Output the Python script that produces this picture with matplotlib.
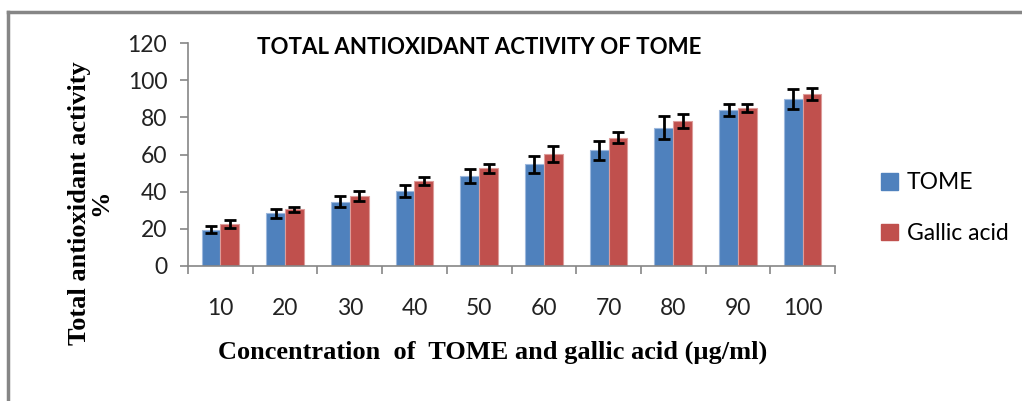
import numpy as np
import matplotlib.pyplot as plt
from matplotlib.lines import Line2D

# Data
conc = ["10", "20", "30", "40", "50", "60", "70", "80", "90", "100"]
tome = [19.5, 28.4, 34.6, 40.2, 48.4, 54.7, 62.2, 74.4, 83.8, 89.7]
tome_err = [2.0, 2.5, 3.0, 3.3, 4.0, 4.7, 5.0, 6.1, 3.3, 5.4]
gallic = [22.4, 30.5, 37.5, 45.6, 52.6, 60.1, 69.1, 78.0, 85.0, 92.6]
gallic_err = [2.2, 1.3, 2.6, 2.2, 2.5, 4.3, 3.1, 3.7, 2.2, 3.3]

blue = "#4F81BD"
red = "#C0504D"
grey = "#868686"

fig = plt.figure(figsize=(10.22, 4.01), dpi=100)
ax = fig.add_axes([188 / 1022, 1 - 266 / 401, (835 - 188) / 1022, (266 - 43) / 401])

x = np.arange(len(conc))
w = 0.29
err_kw = dict(ecolor="black", elinewidth=2, capsize=4.5, capthick=2)
ax.bar(x - w / 2, tome, w, color=blue, edgecolor="#9DB8DD", linewidth=0.8,
       yerr=tome_err, error_kw=err_kw, label="TOME")
ax.bar(x + w / 2, gallic, w, color=red, edgecolor="#DD9C9A", linewidth=0.8,
       yerr=gallic_err, error_kw=err_kw, label="Gallic acid")

ax.set_xlim(-0.5, len(conc) - 0.5)
ax.set_ylim(0, 120)
ax.set_yticks(range(0, 121, 20))
ax.set_xticks(x)
ax.set_xticklabels(conc)
ax.set_xticks(np.arange(-0.5, len(conc), 1), minor=True)
ax.tick_params(axis="x", which="major", length=0, pad=23)
ax.tick_params(axis="x", which="minor", length=6, color=grey, width=1.2)
ax.tick_params(axis="y", length=6, color=grey, width=1.2, pad=9)
for lab in ax.get_xticklabels() + ax.get_yticklabels():
    lab.set_fontfamily("Lato")
    lab.set_fontsize(16.5)
    lab.set_color("#222222")

for s in ["top", "right"]:
    ax.spines[s].set_visible(False)
for s in ["left", "bottom"]:
    ax.spines[s].set_color(grey)
    ax.spines[s].set_linewidth(1.2)

ax.set_title("TOTAL ANTIOXIDANT ACTIVITY OF TOME", fontfamily="Lato",
             fontweight="bold", fontsize=16, x=0.45, y=0.915)

fig.text(493 / 1022, 1 - 352 / 401, "Concentration  of  TOME and gallic acid (\u00b5g/ml)",
         ha="center", va="center", fontfamily="Liberation Serif",
         fontweight="bold", fontsize=19)
fig.text(90 / 1022, 1 - 203 / 401, "Total antioxidant activity\n%",
         ha="center", va="center", rotation=90, fontfamily="Liberation Serif",
         fontweight="bold", fontsize=19, linespacing=0.9)

handles = [plt.Rectangle((0, 0), 1, 1, color=blue), plt.Rectangle((0, 0), 1, 1, color=red)]
fig.legend(handles, ["TOME", "Gallic acid"], loc="center left",
           bbox_to_anchor=(860 / 1022, 1 - 208 / 401), frameon=False,
           prop={"family": "Lato", "size": 16.5}, handlelength=0.75, handleheight=0.75,
           handletextpad=0.4, labelspacing=1.3)

# outer chart frame (cut off at right and bottom)
fig.add_artist(Line2D([8 / 1022, 8 / 1022], [0, 1 - 12 / 401], color=grey, lw=2.5,
                      transform=fig.transFigure))
fig.add_artist(Line2D([8 / 1022, 1], [1 - 12 / 401, 1 - 12 / 401], color=grey, lw=2.5,
                      transform=fig.transFigure))

fig.savefig("out.png", dpi=100)
